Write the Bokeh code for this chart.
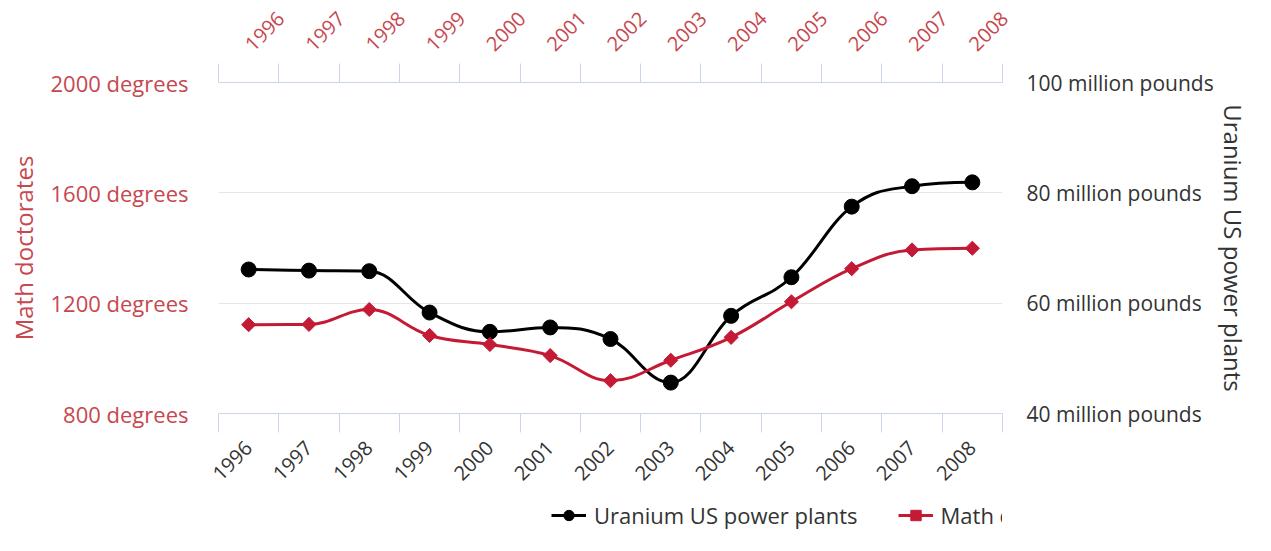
import math
from bokeh.plotting import figure
from bokeh.layouts import column
from bokeh.models import (Range1d, LinearAxis, FixedTicker, PrintfTickFormatter,
                          ColumnDataSource, Legend, LegendItem)
from bokeh.embed import file_html
from bokeh.resources import INLINE

years = ["1996", "1997", "1998", "1999", "2000", "2001", "2002",
         "2003", "2004", "2005", "2006", "2007", "2008"]
uranium = [66.1, 65.9, 65.8, 58.3, 54.8, 55.6, 53.5, 45.6, 57.7, 64.7, 77.5, 81.2, 81.9]
math_doc = [1122, 1123, 1177, 1083, 1050, 1010, 919, 993, 1076, 1205, 1325, 1393, 1399]
left_ticks = [800, 1200, 1600, 2000]
right_ticks = [40, 60, 80, 100]

FONT = "Open Sans"
RED = "#c41a36"
RED_TXT = "#c6474f"
DARK_TXT = "#333333"
AXIS_C = "#ccd6eb"
GRID_C = "#e6e6e6"

xs = [i + 0.5 for i in range(len(years))]


def spline(xv, yv, smoothing=1.5):
    n = len(xv)
    d = smoothing + 1
    lc, rc = [], []
    for i in range(n):
        x, y = xv[i], yv[i]
        lcx, lcy, rcx, rcy = x, y, x, y
        if 0 < i < n - 1:
            px, py = xv[i - 1], yv[i - 1]
            nx, ny = xv[i + 1], yv[i + 1]
            lcx = (smoothing * x + px) / d
            lcy = (smoothing * y + py) / d
            rcx = (smoothing * x + nx) / d
            rcy = (smoothing * y + ny) / d
            if rcx != lcx:
                c = (rcy - lcy) * (rcx - x) / (rcx - lcx) + y - rcy
                lcy += c
                rcy += c
                if lcy > py and lcy > y:
                    lcy = max(py, y); rcy = 2 * y - lcy
                elif lcy < py and lcy < y:
                    lcy = min(py, y); rcy = 2 * y - lcy
                if rcy > ny and rcy > y:
                    rcy = max(ny, y); lcy = 2 * y - rcy
                elif rcy < ny and rcy < y:
                    rcy = min(ny, y); lcy = 2 * y - rcy
        lc.append((lcx, lcy))
        rc.append((rcx, rcy))
    return ColumnDataSource(dict(
        x0=xv[:-1], y0=yv[:-1], x1=xv[1:], y1=yv[1:],
        cx0=[rc[i][0] for i in range(n - 1)], cy0=[rc[i][1] for i in range(n - 1)],
        cx1=[lc[i + 1][0] for i in range(n - 1)], cy1=[lc[i + 1][1] for i in range(n - 1)],
    ))


p = figure(width=1255, height=498, output_backend="svg", toolbar_location=None,
           x_range=Range1d(0, len(years)), y_range=Range1d(800, 2000),
           x_axis_location=None, y_axis_location=None,
           min_border_left=218, min_border_top=82, min_border_right=253, min_border_bottom=85)
p.outline_line_color = None
p.extra_y_ranges = {"right": Range1d(40, 100)}

label_over = {x: y for x, y in zip(xs, years)}
minor = [float(i) for i in range(len(years) + 1)]


def xaxis(side, standoff, color):
    ax = LinearAxis(ticker=FixedTicker(ticks=xs, minor_ticks=minor),
                    major_label_overrides=label_over)
    ax.axis_line_color = AXIS_C
    ax.major_tick_line_color = None
    ax.major_tick_out = 0
    ax.major_tick_in = 0
    ax.minor_tick_line_color = AXIS_C
    ax.minor_tick_out = 19
    ax.minor_tick_in = 0
    ax.major_label_orientation = math.pi / 4
    ax.major_label_standoff = standoff
    ax.major_label_text_font = FONT
    ax.major_label_text_font_size = "20px"
    ax.major_label_text_color = color
    p.add_layout(ax, side)
    return ax


xaxis("above", 16, RED_TXT)
xaxis("below", 12, DARK_TXT)

ly = LinearAxis(ticker=FixedTicker(ticks=left_ticks), formatter=PrintfTickFormatter(format="%d degrees"),
                axis_label="Math doctorates")
ry = LinearAxis(ticker=FixedTicker(ticks=right_ticks), formatter=PrintfTickFormatter(format="%d million pounds"),
                axis_label="Uranium US power plants", y_range_name="right")
for ax, col, so, lso, fs in ((ly, RED_TXT, 8, 30, "22px"), (ry, DARK_TXT, 0, 24, "21px")):
    ax.axis_line_color = None
    ax.major_tick_line_color = None
    ax.minor_tick_line_color = None
    ax.major_tick_out = 0
    ax.major_label_standoff = lso
    ax.major_label_text_font = FONT
    ax.major_label_text_font_size = fs
    ax.major_label_text_color = col
    ax.axis_label_text_font = FONT
    ax.axis_label_text_font_size = "24px"
    ax.axis_label_text_font_style = "normal"
    ax.axis_label_text_color = col
    ax.axis_label_standoff = so
p.add_layout(ly, "left")
p.add_layout(ry, "right")

p.xgrid.visible = False
p.ygrid.ticker = FixedTicker(ticks=left_ticks)
p.ygrid.grid_line_color = GRID_C
p.ygrid.grid_line_width = 1

u_src = spline(xs, uranium)
m_src = spline(xs, math_doc)
p.bezier(x0="x0", y0="y0", x1="x1", y1="y1", cx0="cx0", cy0="cy0", cx1="cx1", cy1="cy1",
         source=u_src, line_color="black", line_width=3, line_cap="round", y_range_name="right")
p.scatter(xs, uranium, marker="circle", size=15, color="black", y_range_name="right")
p.bezier(x0="x0", y0="y0", x1="x1", y1="y1", cx0="cx0", cy0="cy0", cx1="cx1", cy1="cy1",
         source=m_src, line_color=RED, line_width=3, line_cap="round")
p.scatter(xs, math_doc, marker="square", angle=math.pi / 4, size=10, color=RED)

# legend strip below the chart: a small figure whose frame holds only the legend
lf = figure(width=1255, height=37, output_backend="svg", toolbar_location=None,
            x_range=Range1d(-2, -1), y_range=Range1d(-2, -1),
            x_axis_location=None, y_axis_location=None,
            min_border_left=0, min_border_right=0, min_border_top=0, min_border_bottom=0)
lf.outline_line_color = None
lf.xgrid.visible = False
lf.ygrid.visible = False
u_line = lf.line(xs[:2], uranium[:2], line_color="black", line_width=3)
u_mark = lf.scatter(xs[:1], uranium[:1], marker="circle", size=15, color="black")
m_line = lf.line(xs[:2], math_doc[:2], line_color=RED, line_width=3)
m_mark = lf.scatter(xs[:1], math_doc[:1], marker="square", angle=math.pi / 4, size=10, color=RED)

legend = Legend(items=[LegendItem(label="Uranium US power plants", renderers=[u_line, u_mark]),
                       LegendItem(label="Math doctorates", renderers=[m_line, m_mark])],
                orientation="horizontal", location=(333, 5))
legend.label_text_font = FONT
legend.label_text_font_size = "22px"
legend.label_text_color = DARK_TXT
legend.glyph_width = 35
legend.glyph_height = 26
legend.label_height = 26
legend.label_standoff = 8
legend.spacing = 40
legend.border_line_color = None
legend.background_fill_alpha = 0
legend.margin = 0
legend.padding = 0
lf.add_layout(legend, "center")

layout = column(p, lf, spacing=0)
open("out.html", "w").write(file_html(layout, INLINE))
